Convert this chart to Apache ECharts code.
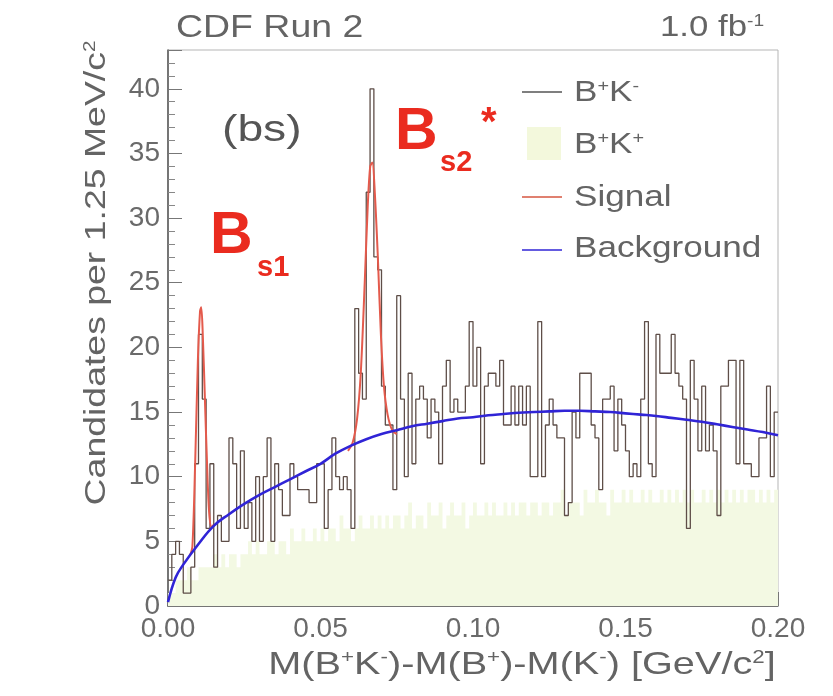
<!DOCTYPE html>
<html>
<head>
<meta charset="utf-8">
<script src="https://cdn.jsdelivr.net/npm/echarts@6/dist/echarts.min.js"></script>
<style>
  html, body { margin: 0; padding: 0; background: #fff; }
  #chart { width: 833px; height: 696px; }
</style>
</head>
<body>
<div id="chart"></div>
<script>
// bin width 1.25 MeV = 0.00125 GeV, 160 bins from 0 to 0.20
var binWidth = 0.00125;

// B+K- candidates per bin
var bkMinus = [
  2, 4, 5, 4, 1, 1, 3, 11, 21, 16,
  6, 11, 3, 7, 5, 5, 13, 11, 6, 12,
  6, 8, 5, 10, 5, 10, 13, 5, 11, 9,
  7, 7, 11, 10, 9, 9, 9, 8, 8, 11,
  11, 6, 9, 13, 10, 9, 10, 9, 6, 23,
  18, 16, 32, 40, 27, 26, 17, 14, 14, 9,
  24, 16, 10, 18, 11, 16, 17, 16, 13, 16,
  15, 11, 17, 19, 15, 16, 15, 15, 17, 22,
  17, 20, 11, 17, 18, 18, 17, 19, 14, 14,
  17, 14, 17, 14, 17, 10, 10, 22, 10, 14,
  16, 14, 13, 13, 7, 8, 15, 13, 18, 18,
  18, 14, 13, 9, 16, 16, 17, 12, 16, 14,
  12, 10, 11, 10, 16, 22, 11, 10, 21, 18,
  18, 18, 21, 18, 17, 16, 6, 19, 16, 12,
  17, 12, 14, 12, 7, 17, 17, 19, 19, 11,
  19, 11, 11, 10, 10, 13, 13, 17, 10, 15
];

// B+K+ (wrong sign) candidates per bin
var bkPlus = [
  1, 1, 2, 2, 2, 3, 2, 2, 3, 3,
  3, 3, 4, 3, 4, 3, 4, 4, 3, 4,
  4, 5, 4, 5, 4, 4, 5, 5, 4, 5,
  5, 4, 6, 5, 5, 6, 5, 5, 6, 5,
  6, 5, 6, 6, 5, 7, 6, 6, 5, 6,
  7, 6, 6, 7, 6, 7, 6, 7, 6, 7,
  7, 6, 7, 8, 6, 7, 7, 6, 8, 7,
  7, 8, 6, 7, 8, 7, 7, 8, 6, 7,
  8, 7, 7, 8, 7, 8, 7, 7, 8, 7,
  8, 7, 8, 8, 7, 8, 8, 7, 8, 8,
  7, 8, 8, 9, 7, 8, 8, 8, 7, 9,
  8, 8, 9, 8, 8, 7, 9, 8, 8, 9,
  8, 9, 8, 8, 9, 8, 9, 8, 8, 9,
  8, 9, 8, 9, 8, 9, 8, 9, 8, 8,
  9, 8, 9, 8, 9, 8, 9, 8, 9, 8,
  9, 8, 9, 9, 8, 9, 8, 9, 8, 9
];

// background fit
var bgX = [0, 0.0025, 0.005, 0.010, 0.015, 0.020, 0.025, 0.030, 0.035, 0.040,
           0.045, 0.050, 0.055, 0.060, 0.065, 0.070, 0.075, 0.080, 0.085, 0.090,
           0.095, 0.100, 0.105, 0.110, 0.115, 0.120, 0.125, 0.130, 0.135, 0.140,
           0.145, 0.150, 0.155, 0.160, 0.165, 0.170, 0.175, 0.180, 0.185, 0.190,
           0.195, 0.200];
var bgY = [0.3, 2.2, 3.2, 4.8, 6.2, 7.1, 7.9, 8.6, 9.2, 9.8,
           10.4, 11.0, 11.8, 12.4, 12.9, 13.3, 13.6, 13.9, 14.1, 14.3,
           14.5, 14.6, 14.75, 14.85, 14.95, 15.0, 15.05, 15.1, 15.1, 15.05,
           15.0, 14.9, 14.8, 14.7, 14.55, 14.4, 14.25, 14.05, 13.85, 13.65,
           13.45, 13.2];

// signal + background fit around the two peaks
var sig1X = [0.0072, 0.0080, 0.0089, 0.0098, 0.0105, 0.0109, 0.0114, 0.0121, 0.0128, 0.0135, 0.0143, 0.0150];
var sig1Y = [3.9, 4.6, 11, 19, 22.8, 23.1, 21, 16, 11, 7.2, 6.1, 6.3];
var sig2X = [0.0590, 0.0605, 0.0620, 0.0632, 0.0645, 0.0655, 0.0663, 0.0670, 0.0678, 0.0688, 0.0698, 0.0708, 0.0720, 0.0735, 0.0750];
var sig2Y = [12.0, 12.6, 14.5, 18, 25, 31, 34, 34.3, 32, 27, 21, 17, 14.8, 13.6, 13.3];

var font = "Liberation Sans";
var gray = "#646464";
var red = "#ea2b1f";

function histData(vals) {
  var d = [];
  for (var i = 0; i < vals.length; i++) d.push([i * binWidth, vals[i]]);
  d.push([vals.length * binWidth, vals[vals.length - 1]]);
  return d;
}
function pairs(xs, ys) {
  return xs.map(function (x, i) { return [x, ys[i]]; });
}
var signalData = pairs(sig1X, sig1Y).concat([['-', '-']]).concat(pairs(sig2X, sig2Y));

function supText(x, y, text, size, scaleX, opts) {
  var el = {
    type: "text", x: x, y: y, scaleX: scaleX || 1,
    style: {
      text: text, textVerticalAlign: "middle",
      rich: {
        n: { fontSize: size, fontFamily: font, fill: gray },
        s: { fontSize: Math.round(size * 0.55), fontFamily: font, fill: gray, verticalAlign: "top" }
      }
    }
  };
  if (opts) {
    for (var k in opts) {
      if (k === "textAlign") el.style.textAlign = opts[k]; else el[k] = opts[k];
    }
  }
  return el;
}

var chart = echarts.init(document.getElementById("chart"));
chart.setOption({
  animation: false,
  grid: {
    left: 168, right: 55, top: 50, bottom: 90,
    show: true, borderColor: "#b5b5b5", borderWidth: 1
  },
  xAxis: {
    type: "value",
    min: 0, max: 0.2, interval: 0.05,
    axisLine: { lineStyle: { color: "#555", width: 1.5 } },
    axisTick: { inside: true, length: 14, lineStyle: { color: "#777" } },
    minorTick: { show: true, splitNumber: 5, length: 7, lineStyle: { color: "#888" } },
    splitLine: { show: false },
    axisLabel: {
      formatter: function (v) { return v.toFixed(2); },
      fontSize: 28, color: "#6a6a6a", fontFamily: font, margin: 9
    }
  },
  yAxis: {
    type: "value",
    min: 0, max: 43, interval: 5,
    axisLine: { show: true, lineStyle: { color: "#555", width: 1.5 } },
    axisTick: { show: true, inside: true, length: 14, lineStyle: { color: "#777" } },
    minorTick: { show: true, splitNumber: 5, length: 7, lineStyle: { color: "#888" } },
    splitLine: { show: false },
    axisLabel: {
      showMaxLabel: false,
      fontSize: 28, color: "#6a6a6a", fontFamily: font, margin: 8
    }
  },
  series: [
    {
      name: "B+K+", type: "line", step: "end", symbol: "none", z: 1,
      data: histData(bkPlus),
      lineStyle: { width: 0 },
      areaStyle: { color: "#f3f9e3", opacity: 1 }
    },
    {
      name: "B+K-", type: "line", step: "end", symbol: "none", z: 3,
      data: histData(bkMinus),
      lineStyle: { color: "#5e4e48", width: 1.3 }
    },
    {
      name: "Signal", type: "line", smooth: 0.3, symbol: "none", z: 4,
      connectNulls: false,
      data: signalData,
      lineStyle: { color: "#e45a4c", width: 2 }
    },
    {
      name: "Background", type: "line", smooth: 0.4, symbol: "none", z: 5,
      data: pairs(bgX, bgY),
      lineStyle: { color: "#3024d6", width: 2.6 }
    }
  ],
  graphic: [
    // titles
    { type: "text", x: 176, y: 28, scaleX: 1.17,
      style: { text: "CDF Run 2", font: "32px " + font, fill: gray, textVerticalAlign: "middle" } },
    supText(660, 28, "{n|1.0 fb}{s|-1}", 29, 1.2),
    { type: "text", x: 222, y: 131, scaleX: 1.25,
      style: { text: "(bs)", font: "37px " + font, fill: "#555", textVerticalAlign: "middle" } },
    // peak labels
    { type: "text", x: 210, y: 237,
      style: { text: "B", font: "bold 59px " + font, fill: red, textVerticalAlign: "middle" } },
    { type: "text", x: 257, y: 268,
      style: { text: "s1", font: "bold 29px " + font, fill: red, textVerticalAlign: "middle" } },
    { type: "text", x: 395, y: 133,
      style: { text: "B", font: "bold 59px " + font, fill: red, textVerticalAlign: "middle" } },
    { type: "text", x: 440, y: 163,
      style: { text: "s2", font: "bold 29px " + font, fill: red, textVerticalAlign: "middle" } },
    { type: "text", x: 481, y: 124,
      style: { text: "*", font: "bold 40px " + font, fill: red, textVerticalAlign: "middle" } },
    // legend
    { type: "line", shape: { x1: 522, y1: 92, x2: 562, y2: 92 }, style: { stroke: "#555", lineWidth: 1.5 } },
    supText(574, 93, "{n|B}{s|+}{n|K}{s|-}", 30, 1.17),
    { type: "rect", shape: { x: 527, y: 127, width: 34, height: 33 }, style: { fill: "#f3f8dc" } },
    supText(574, 145, "{n|B}{s|+}{n|K}{s|+}", 30, 1.17),
    { type: "line", shape: { x1: 522, y1: 197, x2: 562, y2: 197 }, style: { stroke: "#e08070", lineWidth: 2 } },
    { type: "text", x: 574, y: 198, scaleX: 1.17,
      style: { text: "Signal", font: "30px " + font, fill: gray, textVerticalAlign: "middle" } },
    { type: "line", shape: { x1: 522, y1: 250, x2: 562, y2: 250 }, style: { stroke: "#3024d6", lineWidth: 1.5 } },
    { type: "text", x: 574, y: 249, scaleX: 1.17,
      style: { text: "Background", font: "30px " + font, fill: gray, textVerticalAlign: "middle" } },
    // axis titles
    supText(522, 665, "{n|M(B}{s|+}{n|K}{s|-}{n|)-M(B}{s|+}{n|)-M(K}{s|-}{n|) [GeV/c}{s|2}{n|]}", 32, 1.24,
      { textAlign: "center" }),
    supText(97, 273, "{n|Candidates per 1.25 MeV/c}{s|2}", 29, 1.29,
      { textAlign: "center", rotation: Math.PI / 2 })
  ]
});
</script>
</body>
</html>
